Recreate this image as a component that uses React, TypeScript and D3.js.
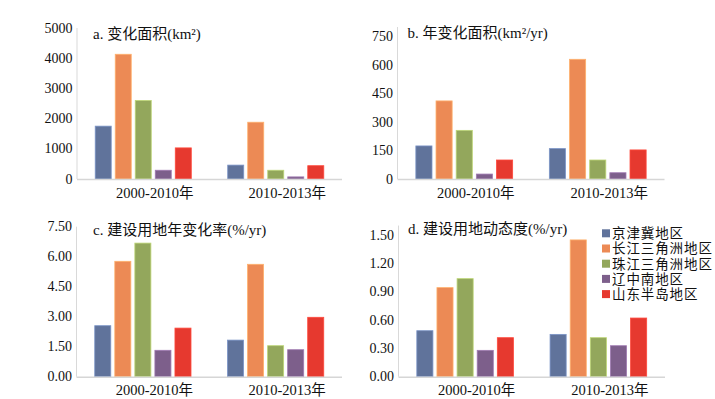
import React from "react";
import * as d3 from "d3";

const categories = ["2000-2010年", "2010-2013年"];
const seriesNames = ["京津冀地区", "长江三角洲地区", "珠江三角洲地区", "辽中南地区", "山东半岛地区"];
const seriesColors = ["#60739b", "#ec8a55", "#93a75c", "#7d5f8b", "#e6392f"];

// values [category][series]
const areaChange = [
  [1750, 4130, 2600, 290, 1030],
  [460, 1880, 290, 70, 440],
];
const annualAreaChange = [
  [174, 411, 256, 26, 100],
  [160, 630, 100, 33, 153],
];
const annualRate = [
  [2.55, 5.77, 6.68, 1.32, 2.43],
  [1.83, 5.62, 1.55, 1.35, 2.97],
];
const dynamicDegree = [
  [0.487, 0.943, 1.038, 0.279, 0.413],
  [0.448, 1.448, 0.413, 0.328, 0.621],
];

const ticksA = [0, 1000, 2000, 3000, 4000, 5000];
const ticksB = [0, 150, 300, 450, 600, 750];
const ticksC = [0, 1.5, 3, 4.5, 6, 7.5];
const ticksD = [0, 0.3, 0.6, 0.9, 1.2, 1.5];

type PanelProps = {
  title: string;
  data: number[][];
  ticks: number[];
  domainMax: number;
  fmt: (v: number) => string;
  x0: number;
  x1: number;
  yBase: number;
  yTop: number;
  titleX: number;
  titleY: number;
};

const serif = "'Liberation Serif', 'Noto Sans CJK SC', serif";

function Panel(p: PanelProps) {
  const x = d3.scaleBand<string>().domain(categories).range([p.x0, p.x1]).padding(0);
  const bw = x.bandwidth();
  const xs = d3
    .scaleBand<string>()
    .domain(seriesNames)
    .range([0, bw])
    .paddingInner(0.2)
    .paddingOuter(0.91);
  const y = d3.scaleLinear().domain([0, p.domainMax]).range([p.yBase, p.yTop]);
  return (
    <g>
      <line x1={p.x0} x2={p.x0} y1={y(p.domainMax)} y2={p.yBase} stroke="#d9d9d9" strokeWidth={1} />
      {p.ticks.map((t) => (
        <text
          key={t}
          x={p.x0 - 4.5}
          y={y(t)}
          textAnchor="end"
          dominantBaseline="central"
          fontFamily={serif}
          fontSize={14}
          fill="#111"
        >
          {p.fmt(t)}
        </text>
      ))}
      {categories.map((c, ci) => (
        <g key={c}>
          {seriesNames.map((s, si) => {
            const v = p.data[ci][si];
            const col = seriesColors[si];
            return (
              <rect
                key={s}
                x={(x(c) as number) + (xs(s) as number)}
                y={y(v)}
                width={xs.bandwidth()}
                height={p.yBase - y(v)}
                fill={col}
                stroke={d3.color(col)!.brighter(0.7).formatHex()}
                strokeWidth={0.8}
              />
            );
          })}
          <text
            x={(x(c) as number) + bw / 2 + 11.5}
            y={p.yBase + 18.5}
            textAnchor="middle"
            fontFamily={serif}
            fontSize={14.5}
            fill="#111"
          >
            {c}
          </text>
        </g>
      ))}
      <line x1={p.x0} x2={p.x1} y1={p.yBase + 0.5} y2={p.yBase + 0.5} stroke="#d6d6d6" strokeWidth={1.6} />
      <text x={p.titleX} y={p.titleY} fontFamily={serif} fontSize={15} fill="#111">
        {p.title}
      </text>
    </g>
  );
}

export default function App() {
  const f0 = d3.format("d");
  const f2 = d3.format(".2f");
  return (
    <svg width={715} height={399} style={{ position: "absolute", left: 0, top: 0, background: "#fff" }}>
      <rect width={715} height={399} fill="#fff" />
      <Panel
        title="a. 变化面积(km²)"
        data={areaChange}
        ticks={ticksA}
        domainMax={5000}
        fmt={f0}
        x0={77}
        x1={342}
        yBase={179}
        yTop={28}
        titleX={93}
        titleY={38.5}
      />
      <Panel
        title="b. 年变化面积(km²/yr)"
        data={annualAreaChange}
        ticks={ticksB}
        domainMax={800}
        fmt={f0}
        x0={397.5}
        x1={664.5}
        yBase={179}
        yTop={179 - (142.5 * 800) / 750}
        titleX={407.5}
        titleY={38}
      />
      <Panel
        title="c. 建设用地年变化率(%/yr)"
        data={annualRate}
        ticks={ticksC}
        domainMax={7.5}
        fmt={f2}
        x0={76.5}
        x1={342}
        yBase={376.7}
        yTop={226.7}
        titleX={93}
        titleY={235}
      />
      <Panel
        title="d. 建设用地动态度(%/yr)"
        data={dynamicDegree}
        ticks={ticksD}
        domainMax={1.6}
        fmt={f2}
        x0={398.5}
        x1={665}
        yBase={376.7}
        yTop={376.7 - (141.7 * 1.6) / 1.5}
        titleX={408}
        titleY={233.5}
      />
      <g>
        {seriesNames.map((s, i) => {
          const cy = 233.3 + i * 15.2;
          return (
            <g key={s}>
              <rect x={602} y={cy - 4} width={8} height={8} fill={seriesColors[i]} />
              <text
                x={612}
                y={cy + 4.8}
                fontFamily="'Liberation Serif', 'Noto Sans CJK SC', serif"
                fontSize={13.5}
                letterSpacing={0.9}
                fill="#111"
              >
                {s}
              </text>
            </g>
          );
        })}
      </g>
    </svg>
  );
}
